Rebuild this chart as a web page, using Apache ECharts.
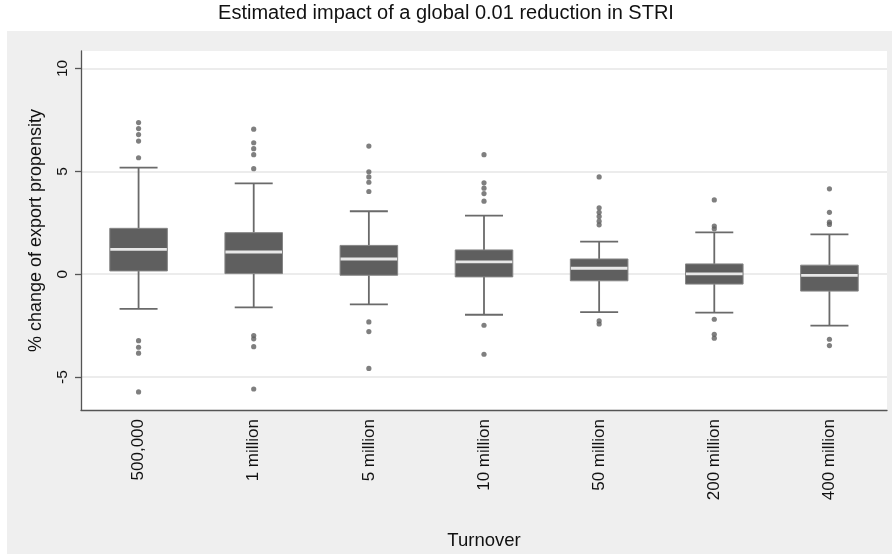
<!DOCTYPE html>
<html>
<head>
<meta charset="utf-8">
<script src="https://cdn.jsdelivr.net/npm/echarts@6/dist/echarts.min.js"></script>
<style>
  html, body { margin: 0; padding: 0; background: #ffffff; }
  #chart { width: 892px; height: 558px; }
</style>
</head>
<body>
<div id="chart"></div>
<script>
// Firm turnover groups
const categories = ['500,000', '1 million', '5 million', '10 million', '50 million', '200 million', '400 million'];

// Box summary per group (% change of export propensity)
const lowerWhisker = [-1.68, -1.61, -1.47, -1.97, -1.84, -1.87, -2.50];
const q1           = [ 0.16,  0.03, -0.05, -0.13, -0.32, -0.48, -0.82];
const median       = [ 1.21,  1.08,  0.74,  0.60,  0.29,  0.02, -0.06];
const q3           = [ 2.23,  2.02,  1.40,  1.18,  0.74,  0.50,  0.44];
const upperWhisker = [ 5.18,  4.42,  3.06,  2.85,  1.58,  2.03,  1.94];

// Points outside the whiskers
const outliers = [
  [7.37, 7.08, 6.79, 6.47, 5.66, -3.23, -3.55, -3.84, -5.72],
  [7.05, 6.39, 6.10, 5.81, 5.13, -2.98, -3.14, -3.52, -5.58],
  [6.23, 4.98, 4.73, 4.47, 4.02, -2.32, -2.79, -4.58],
  [5.81, 4.44, 4.18, 3.92, 3.55, -2.48, -3.89],
  [4.73, 3.23, 3.01, 2.81, 2.58, 2.40, -2.27, -2.42],
  [3.61, 2.34, 2.21, -2.19, -2.92, -3.11],
  [4.15, 3.01, 2.53, 2.42, -3.16, -3.47]
];

// Y axis tick values
const yTicks = [-5, 0, 5, 10];

const boxData = categories.map((c, i) => [i, lowerWhisker[i], q1[i], median[i], q3[i], upperWhisker[i]]);
const outlierData = [];
outliers.forEach((list, i) => list.forEach(v => outlierData.push([i, v])));

const FONT = '"Liberation Sans", Arial, sans-serif';
const DARK = '#5f5f5f';

const chart = echarts.init(document.getElementById('chart'), null, { renderer: 'canvas' });

chart.setOption({
  backgroundColor: '#ffffff',
  animation: false,
  graphic: [{
    type: 'rect',
    z: -10,
    silent: true,
    shape: { x: 7, y: 31, width: 885, height: 523 },
    style: { fill: '#efefef' }
  }],
  title: {
    text: 'Estimated impact of a global 0.01 reduction in STRI',
    left: 'center',
    top: -2,
    textStyle: { fontFamily: FONT, fontSize: 20, fontWeight: 'normal', color: '#111' }
  },
  grid: {
    left: 81, right: 5, top: 51, bottom: 148,
    show: true, backgroundColor: '#ffffff', borderWidth: 0
  },
  xAxis: {
    type: 'category',
    data: categories,
    name: 'Turnover',
    nameLocation: 'middle',
    nameGap: 121,
    nameTextStyle: { fontFamily: FONT, fontSize: 18.5, color: '#111' },
    axisLine: { onZero: false, lineStyle: { color: '#555', width: 1.3 } },
    axisTick: { show: false },
    axisLabel: { rotate: 90, margin: 9, fontFamily: FONT, fontSize: 17, color: '#111' },
    splitLine: { show: false }
  },
  yAxis: {
    type: 'value',
    min: -6.6,
    max: 10.85,
    name: '% change of export propensity',
    nameLocation: 'middle',
    nameGap: 36,
    nameTextStyle: { fontFamily: FONT, fontSize: 18, color: '#111' },
    axisLine: { show: true, onZero: false, lineStyle: { color: '#555', width: 1.3 } },
    axisTick: { show: true, length: 6, customValues: yTicks, lineStyle: { color: '#555', width: 1.3 } },
    axisLabel: { rotate: 90, margin: 10, customValues: yTicks, fontFamily: FONT, fontSize: 15.5, color: '#111' },
    splitLine: { show: true, lineStyle: { color: '#e6e6e6', width: 1.5 } }
  },
  series: [
    {
      type: 'custom',
      name: 'box',
      data: boxData,
      encode: { x: 0, y: [1, 2, 3, 4, 5] },
      renderItem: function (params, api) {
        const idx = api.value(0);
        const pLow = api.coord([idx, api.value(1)]);
        const pQ1 = api.coord([idx, api.value(2)]);
        const pMed = api.coord([idx, api.value(3)]);
        const pQ3 = api.coord([idx, api.value(4)]);
        const pHigh = api.coord([idx, api.value(5)]);
        const band = api.size([1, 0])[0];
        const boxW = band * 0.5;
        const capW = band * 0.33;
        const cx = pMed[0];
        const lineStyle = { stroke: '#6a6a6a', lineWidth: 1.8 };
        return {
          type: 'group',
          children: [
            { type: 'line', shape: { x1: cx, y1: pLow[1], x2: cx, y2: pQ1[1] }, style: lineStyle },
            { type: 'line', shape: { x1: cx, y1: pQ3[1], x2: cx, y2: pHigh[1] }, style: lineStyle },
            { type: 'line', shape: { x1: cx - capW / 2, y1: pLow[1], x2: cx + capW / 2, y2: pLow[1] }, style: lineStyle },
            { type: 'line', shape: { x1: cx - capW / 2, y1: pHigh[1], x2: cx + capW / 2, y2: pHigh[1] }, style: lineStyle },
            {
              type: 'rect',
              shape: { x: cx - boxW / 2, y: pQ3[1], width: boxW, height: pQ1[1] - pQ3[1] },
              style: { fill: DARK, stroke: '#858585', lineWidth: 1 }
            },
            {
              type: 'rect',
              shape: { x: cx - boxW / 2 + 0.5, y: pMed[1] - 1.4, width: boxW - 1, height: 2.8 },
              style: { fill: '#e8e8e8' }
            }
          ]
        };
      },
      z: 3
    },
    {
      type: 'scatter',
      name: 'outliers',
      data: outlierData,
      symbol: 'circle',
      symbolSize: 5.2,
      itemStyle: { color: DARK },
      z: 4
    }
  ]
});
</script>
</body>
</html>
